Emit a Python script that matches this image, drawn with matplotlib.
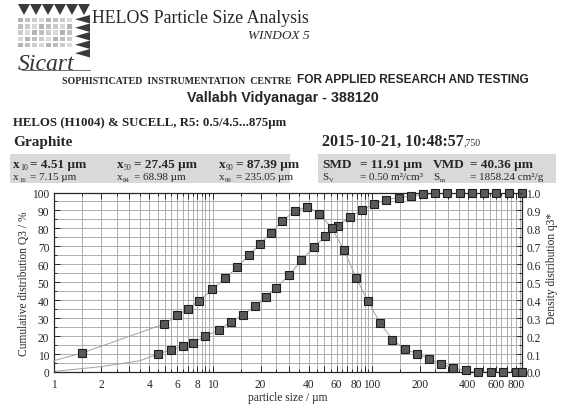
import matplotlib
matplotlib.use('Agg')
import matplotlib.pyplot as plt
from matplotlib.patches import Polygon, Rectangle
from matplotlib.ticker import FixedLocator, NullFormatter

plt.rcParams['font.family'] = ['Liberation Serif', 'DejaVu Serif']

INK = '#262626'

# cumulative distribution Q3 (%) at the R5 class upper limits (um)
size_q3 = [4.5, 5.5, 6.5, 7.5, 9.0, 11, 13, 15.5, 18.5, 21.5, 25, 30, 36, 43, 51,
           61, 73, 87, 103, 123, 147, 175, 209, 249, 297, 355, 425, 505, 605, 725, 875]
q3_values = [9.9, 12.5, 14.3, 16.4, 19.9, 23.6, 27.9, 31.7, 37.0, 41.7, 46.9, 53.8, 62.2, 69.4, 75.6,
             81.4, 86.6, 90.2, 93.5, 96.1, 97.2, 97.9, 98.9, 99.6, 100, 100, 100, 100, 100, 100, 100]
# curve below the first class (line only)
q3_tail_x = [1.0, 2.0, 3.5]
q3_tail_y = [0.3, 3.0, 6.3]

# density distribution q3* at the class centres
size_dens = [1.5, 4.97, 5.98, 6.98, 8.22, 9.95, 11.96, 14.2, 16.9, 19.9, 23.2, 27.4, 32.9, 39.3,
             46.8, 55.8, 66.7, 79.7, 94.7, 112.6, 134.5, 160.4, 191.2, 228.1, 271.9, 324.7,
             388.5, 463.5, 557.4, 666.2, 796.6, 875]
dens_values = [0.105, 0.268, 0.315, 0.352, 0.398, 0.46, 0.521, 0.583, 0.65, 0.715, 0.775, 0.842,
               0.899, 0.92, 0.883, 0.801, 0.682, 0.521, 0.393, 0.272, 0.18, 0.128, 0.102, 0.074,
               0.046, 0.021, 0.009, 0.0, 0.0, 0.0, 0.0, 0.0]
dens_tail_x = [1.0]
dens_tail_y = [0.063]

x_major = [1, 2, 3, 4, 5, 6, 7, 8, 9, 10, 20, 30, 40, 50, 60, 70, 80, 90,
           100, 200, 300, 400, 500, 600, 700, 800]
x_labeled = [1, 2, 4, 6, 8, 10, 20, 40, 60, 80, 100, 200, 400, 600, 800]
x_minor = [1.5, 2.5, 3.5, 4.5, 5.5, 6.5, 7.5, 8.5, 9.5,
           15, 25, 35, 45, 55, 65, 75, 85, 95,
           150, 250, 350, 450, 550, 650, 750, 850]

# (symbol, subscript, value text)
stats_row1 = [('x', '10', '= 4.51 µm'), ('x', '50', '= 27.45 µm'), ('x', '90', '= 87.39 µm'),
              ('SMD', '', '= 11.91 µm'), ('VMD', '', '= 40.36 µm')]
stats_row2 = [('x', '16', '= 7.15 µm'), ('x', '84', '= 68.98 µm'), ('x', '99', '= 235.05 µm'),
              ('S', 'V', '= 0.50 m²/cm³'), ('S', 'm', '= 1858.24 cm²/g')]
stats_x = [(13, 30), (117, 134), (219, 236), (322, 360), (433, 470)]

fig = plt.figure(figsize=(5.65, 4.10), dpi=100)

# page layer in pixel coordinates
bg = fig.add_axes([0, 0, 1, 1])
bg.set_xlim(0, 565)
bg.set_ylim(410, 0)
bg.axis('off')

# logo
for i in range(6):
    x0 = 18 + i * 12
    bg.add_patch(Polygon([(x0, 5), (x0 + 12, 5), (x0 + 6, 16)], color='#3a3a3a', lw=0))
for j in range(5):
    y0 = 16 + j * 8.5
    bg.add_patch(Polygon([(90, y0), (90, y0 + 8.5), (75, y0 + 4.25)], color='#3a3a3a', lw=0))
for i in range(8):
    for j in range(5):
        g = 0.70 + 0.05 * ((i + j) % 4)
        bg.add_patch(Rectangle((18 + i * 7, 19 + j * 6.2), 5, 4.4, color=(g, g, g), lw=0))
bg.text(18, 70, 'Sicart', fontsize=17, style='italic', color='#333333')
bg.plot([22, 90], [71, 71], color='#555555', lw=0.6)

bg.text(92, 23, 'HELOS Particle Size Analysis', fontsize=12.8, color=INK)
bg.text(310, 39, 'WINDOX 5', fontsize=9.5, style='italic', color=INK, ha='right')
t_soph = bg.text(62, 84, 'SOPHISTICATED  INSTRUMENTATION  CENTRE', fontsize=7.1,
                 fontweight='bold', color=INK)
bg.annotate('FOR APPLIED RESEARCH AND TESTING', xy=(1, 0), xycoords=t_soph,
            xytext=(4, 0), textcoords='offset points', fontsize=8.6, fontweight='bold',
            family='Liberation Sans', color=INK, va='bottom')
bg.text(283, 102, 'Vallabh Vidyanagar - 388120', fontsize=10.3, fontweight='bold',
        family='Liberation Sans', color=INK, ha='center')

bg.text(13, 126, 'HELOS (H1004) & SUCELL, R5: 0.5/4.5...875µm', fontsize=9.3,
        fontweight='bold', color=INK)
bg.text(13, 146, 'Graphite', fontsize=11, fontweight='bold', color=INK)
t_date = bg.text(322, 146, '2015-10-21, 10:48:57', fontsize=11.5, fontweight='bold', color=INK)
bg.annotate(',750', xy=(1, 0.15), xycoords=t_date, fontsize=7, color=INK, va='bottom')

bg.add_patch(Rectangle((10, 155), 280, 29, color='#d9d9d9', lw=0))
bg.add_patch(Rectangle((318, 155), 238, 29, color='#d9d9d9', lw=0))


def stat_label(x, y, sym, sub, size, weight):
    t = bg.text(x, y, sym, fontsize=size, fontweight=weight, color=INK)
    if sub:
        bg.annotate(sub, xy=(1, 0), xycoords=t, xytext=(0.3, -1), textcoords='offset points',
                    fontsize=size * 0.6, color=INK, va='bottom')


for (sym, sub, val), (xa, xb) in zip(stats_row1, stats_x):
    stat_label(xa, 168, sym, sub, 9.5, 'bold')
    bg.text(xb, 168, val, fontsize=9.5, fontweight='bold', color=INK)
for (sym, sub, val), (xa, xb) in zip(stats_row2, stats_x):
    stat_label(xa, 180, sym, sub, 8, 'normal')
    bg.text(xb, 180, val, fontsize=8, color=INK)

bg.text(24, 284, 'Cumulative distribution Q3 / %', rotation=90, fontsize=8.3,
        ha='center', va='center', color=INK)
bg.text(552, 268, 'Density distribution q3*', rotation=90, fontsize=8.3,
        ha='center', va='center', color=INK)
bg.text(288, 398, 'particle size / µm', fontsize=8.3, ha='center', va='center', color=INK)

# chart
ax = fig.add_axes([53.5 / 565, (410 - 373) / 410, (522 - 53.5) / 565, (373 - 193.5) / 410])
ax.set_xscale('log')
ax.set_xlim(1, 875)
ax.set_ylim(0, 100)
ax.set_axisbelow(True)

ax.xaxis.set_major_locator(FixedLocator(x_major))
ax.xaxis.set_minor_locator(FixedLocator(x_minor))
ax.set_xticklabels([str(v) if v in x_labeled else '' for v in x_major])
ax.xaxis.set_minor_formatter(NullFormatter())
ax.set_yticks(range(0, 101, 10))
ax.set_yticks(range(5, 100, 10), minor=True)
ax.grid(which='both', color='#a8a8a8', lw=0.65)

ax.tick_params(which='both', direction='in', top=True, right=False, colors=INK,
               labelsize=8.3, width=0.7)
ax.tick_params(which='major', length=4)
ax.tick_params(which='minor', length=2.5)
ax.tick_params(axis='y', pad=3)
ax.tick_params(axis='x', pad=4)
for s in ax.spines.values():
    s.set_color(INK)
    s.set_linewidth(0.9)

ax.plot(q3_tail_x + size_q3, q3_tail_y + q3_values, color='#a0a0a0', lw=0.7, zorder=2)
ax.plot(size_q3, q3_values, ls='none', marker='s', ms=5.3, mfc='#5a5a5a', mec='#1e1e1e',
        mew=0.8, clip_on=False, zorder=3)

ax2 = ax.twinx()
ax2.set_ylim(0, 1)
ax2.set_yticks([i / 10 for i in range(11)])
ax2.set_yticklabels(['%.1f' % (i / 10) for i in range(11)])
ax2.set_yticks([i / 10 + 0.05 for i in range(10)], minor=True)
ax2.tick_params(which='both', direction='in', colors=INK, labelsize=8.3, width=0.7, pad=3)
ax2.tick_params(which='major', length=4)
ax2.tick_params(which='minor', length=2.5)
for s in ax2.spines.values():
    s.set_visible(False)

ax2.plot(dens_tail_x + size_dens, dens_tail_y + dens_values, color='#a0a0a0', lw=0.7, zorder=2)
ax2.plot(size_dens, dens_values, ls='none', marker='s', ms=5.3, mfc='#5a5a5a', mec='#1e1e1e',
         mew=0.8, clip_on=False, zorder=3)

fig.savefig('out.png', dpi=100)
